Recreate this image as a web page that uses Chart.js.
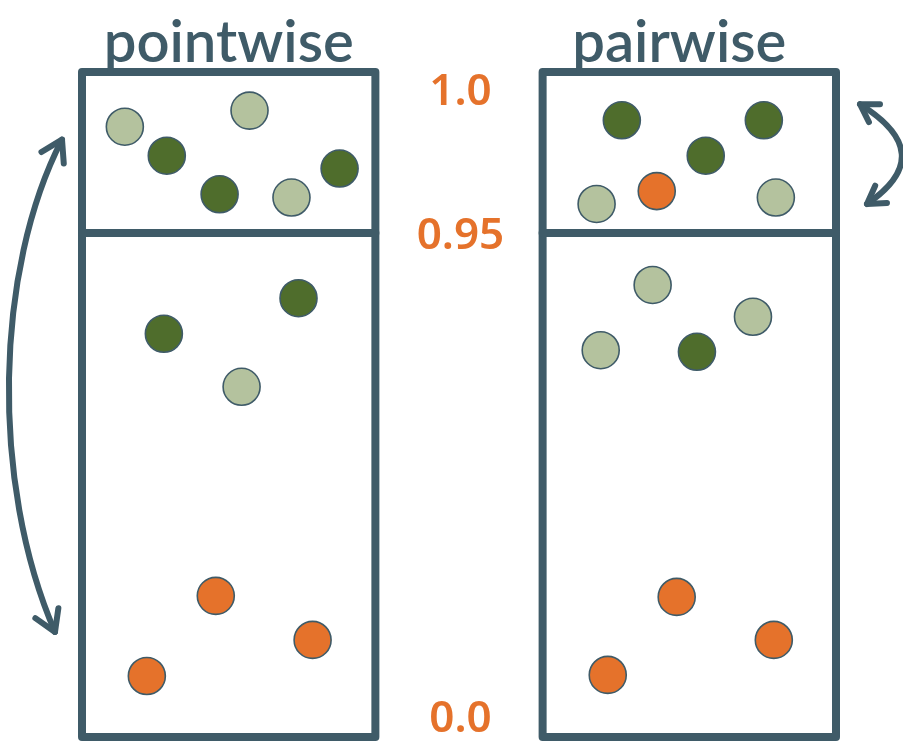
<!DOCTYPE html>
<html>
<head>
<meta charset="utf-8">
<script src="https://cdn.jsdelivr.net/npm/chart.js@4.4.0/dist/chart.umd.min.js"></script>
<style>
  html, body { margin: 0; padding: 0; background: #fff; }
  canvas { display: block; }
</style>
</head>
<body>
<canvas id="chart" width="903" height="749"></canvas>
<script>
// panels and the score axis
const panels = ['pointwise', 'pairwise'];
const yTicks = [0.0, 0.95, 1.0];
const yTickLabels = ['0.0', '0.95', '1.0'];

// pointwise panel: horizontal spot inside the box (0..1), score, colour group
const pointwiseX = [0.146, 0.289, 0.571, 0.469, 0.714, 0.878, 0.279, 0.738, 0.544, 0.456, 0.786, 0.221];
const pointwiseY = [0.983, 0.974, 0.988, 0.962, 0.961, 0.970, 0.760, 0.827, 0.660, 0.266, 0.183, 0.115];
const pointwiseKind = ['light', 'dark', 'light', 'dark', 'light', 'dark', 'dark', 'dark', 'light', 'orange', 'orange', 'orange'];

// pairwise panel
const pairwiseX = [0.270, 0.754, 0.556, 0.389, 0.184, 0.795, 0.375, 0.717, 0.198, 0.526, 0.457, 0.788, 0.222];
const pairwiseY = [0.985, 0.985, 0.974, 0.963, 0.959, 0.961, 0.852, 0.792, 0.729, 0.726, 0.264, 0.183, 0.117];
const pairwiseKind = ['dark', 'dark', 'dark', 'orange', 'light', 'light', 'light', 'light', 'light', 'dark', 'orange', 'orange', 'orange'];

const INK = '#3f5b68';
const ORANGE = '#e5722b';
const colors = { dark: '#4f6d2c', light: '#b4c29e', orange: ORANGE };
const panelStart = [0, 1.57];
const BREAK = 0.95;      // value where the axis is broken
const BREAK_POS = 0.758; // share of the height below the break

// linear scale with the top 5% stretched out
class BrokenScale extends Chart.LinearScale {
  getPixelForValue(v) {
    const d = v <= BREAK ? v / BREAK * BREAK_POS
                         : BREAK_POS + (v - BREAK) / (1 - BREAK) * (1 - BREAK_POS);
    return this.getPixelForDecimal(d);
  }
}
BrokenScale.id = 'broken';
BrokenScale.defaults = Chart.LinearScale.defaults;
Chart.register(BrokenScale);

const allX = [pointwiseX, pairwiseX];
const allY = [pointwiseY, pairwiseY];
const allKind = [pointwiseKind, pairwiseKind];

const datasets = ['light', 'dark', 'orange'].map(kind => {
  const data = [];
  panels.forEach((p, i) => {
    allKind[i].forEach((k, j) => {
      if (k === kind) data.push({ x: panelStart[i] + allX[i][j], y: allY[i][j] });
    });
  });
  return {
    label: kind,
    data,
    backgroundColor: colors[kind],
    borderColor: INK,
    borderWidth: 1.6,
    pointRadius: 18.5
  };
});

function arrowHead(ctx, tip, from, len) {
  const a = Math.atan2(tip.y - from.y, tip.x - from.x);
  ctx.beginPath();
  ctx.moveTo(tip.x - len * Math.cos(a - 0.55), tip.y - len * Math.sin(a - 0.55));
  ctx.lineTo(tip.x, tip.y);
  ctx.lineTo(tip.x - len * Math.cos(a + 0.55), tip.y - len * Math.sin(a + 0.55));
  ctx.stroke();
}

const sketch = {
  id: 'sketch',
  beforeDatasetsDraw(chart) {
    const { ctx, scales: { x, y } } = chart;
    const top = y.getPixelForValue(1), bottom = y.getPixelForValue(0), mid = y.getPixelForValue(BREAK);
    ctx.save();
    ctx.strokeStyle = INK;
    ctx.fillStyle = INK;
    ctx.lineJoin = 'round';
    ctx.lineCap = 'round';

    panels.forEach((name, i) => {
      const l = x.getPixelForValue(panelStart[i]);
      const r = x.getPixelForValue(panelStart[i] + 1);
      ctx.lineWidth = 8;
      ctx.strokeRect(l, top, r - l, bottom - top);
      ctx.beginPath();
      ctx.moveTo(l, mid);
      ctx.lineTo(r, mid);
      ctx.stroke();

      ctx.font = '600 58px Lato';
      ctx.textAlign = 'center';
      ctx.textBaseline = 'alphabetic';
      ctx.fillText(name, (l + r) / 2 - i * 10, top - 10);
    });

    // score labels between the panels
    const cx = x.getPixelForValue(1.29);
    ctx.fillStyle = ORANGE;
    ctx.font = '600 44px "Noto Sans"';
    ctx.textAlign = 'center';
    const shift = { 0: -18, 0.95: 4, 1: 20 };
    yTicks.forEach((v, i) => {
      ctx.textBaseline = 'middle';
      ctx.fillText(yTickLabels[i], cx, y.getPixelForValue(v) + shift[v]);
    });

    // left arrow: spread of the pointwise scores
    ctx.lineWidth = 6;
    const lx = x.getPixelForValue(0);
    const t1 = { x: lx - 20, y: y.getPixelForValue(0.979) };
    const t2 = { x: lx - 27, y: y.getPixelForValue(0.198) };
    const c1 = { x: lx - 87, y: t1.y + 130 };
    const c2 = { x: lx - 92, y: t2.y - 150 };
    ctx.beginPath();
    ctx.moveTo(t1.x, t1.y);
    ctx.bezierCurveTo(c1.x, c1.y, c2.x, c2.y, t2.x, t2.y);
    ctx.stroke();
    arrowHead(ctx, t1, c1, 24);
    arrowHead(ctx, t2, c2, 24);

    // right arrow: spread of the pairwise top scores
    const rx = x.getPixelForValue(panelStart[1] + 1);
    const s1 = { x: rx + 24, y: y.getPixelForValue(0.990) };
    const s2 = { x: rx + 31, y: y.getPixelForValue(0.959) };
    const sc = { x: rx + 104, y: (s1.y + s2.y) / 2 };
    ctx.beginPath();
    ctx.moveTo(s1.x, s1.y);
    ctx.quadraticCurveTo(sc.x, sc.y, s2.x, s2.y);
    ctx.stroke();
    arrowHead(ctx, s1, sc, 20);
    arrowHead(ctx, s2, sc, 20);
    ctx.restore();
  }
};

new Chart(document.getElementById('chart').getContext('2d'), {
  type: 'scatter',
  data: { datasets },
  options: {
    responsive: false,
    animation: false,
    events: [],
    layout: { autoPadding: false, padding: { left: 82, right: 67, top: 72, bottom: 12 } },
    plugins: { legend: { display: false }, tooltip: { enabled: false } },
    scales: {
      x: { type: 'linear', min: 0, max: 2.57, display: false },
      y: { type: 'broken', min: 0, max: 1, display: false }
    }
  },
  plugins: [sketch]
});
</script>
</body>
</html>
